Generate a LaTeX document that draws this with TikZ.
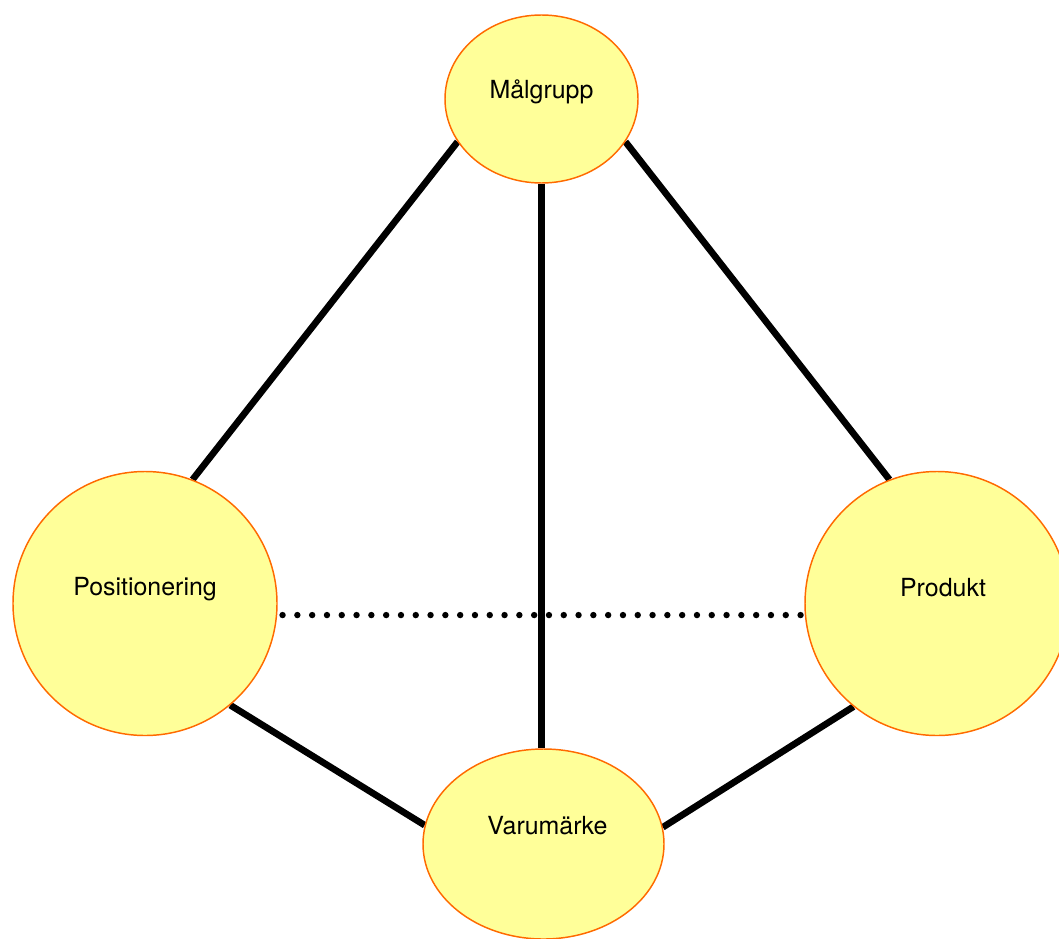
\documentclass[tikz,border=0pt]{standalone}
\usepackage{fontspec}
\setmainfont{TeX Gyre Heros}
\usetikzlibrary{shapes.geometric,backgrounds}
\definecolor{cBubble}{HTML}{FFFF99}
\definecolor{cBubbleEdge}{HTML}{FF6A00}
\tikzset{
  bubble/.style={ellipse, draw=cBubbleEdge, fill=cBubble, line width=1.1pt,
                 inner sep=0pt},
  bubbleRound/.style={bubble, circle, minimum size=198pt},
  bubbleTxt/.style={font=\fontsize{18.7}{22}\selectfont, inner sep=0pt},
  link/.style={line width=5pt, black},
  linkDotted/.style={line width=4.8pt, black, line cap=round,
                     dash pattern=on 0pt off 11.1pt},
}

\begin{document}
\begin{tikzpicture}[x=0.75pt, y=-0.75pt]
\useasboundingbox (0,0) rectangle (1059,938);

% ========== BUBBLES ==========
\node[bubble, minimum width=144.75pt, minimum height=126pt,
      label={[bubbleTxt, yshift=5.25pt]center:Målgrupp}] (malgrupp) at (541.5,99) {};
\node[bubbleRound,
      label={[bubbleTxt, yshift=10.5pt]center:Positionering}] (pos) at (145,603.5) {};
\node[bubbleRound,
      label={[bubbleTxt, xshift=4.5pt, yshift=12pt]center:Produkt}] (produkt) at (937,603.5) {};
\node[bubble, minimum width=180.75pt, minimum height=142.5pt,
      label={[bubbleTxt, xshift=3pt, yshift=13.5pt]center:Varumärke}] (varum) at (543.5,844) {};

% ========== LINKS ==========
\begin{scope}[on background layer]
  \draw[linkDotted, shorten <=4pt] (pos.-5) -- (produkt.185);
  \draw[link] (malgrupp.207) -- (pos.69);
  \draw[link] (malgrupp.333) -- (produkt.111.5);
  \draw[link] (malgrupp.south) -- (malgrupp.south |- varum.north);
  \draw[link] (pos.-50) -- (varum.171.5);
  \draw[link] (produkt.231.7) -- (varum.8.5);
\end{scope}

\end{tikzpicture}
\end{document}
